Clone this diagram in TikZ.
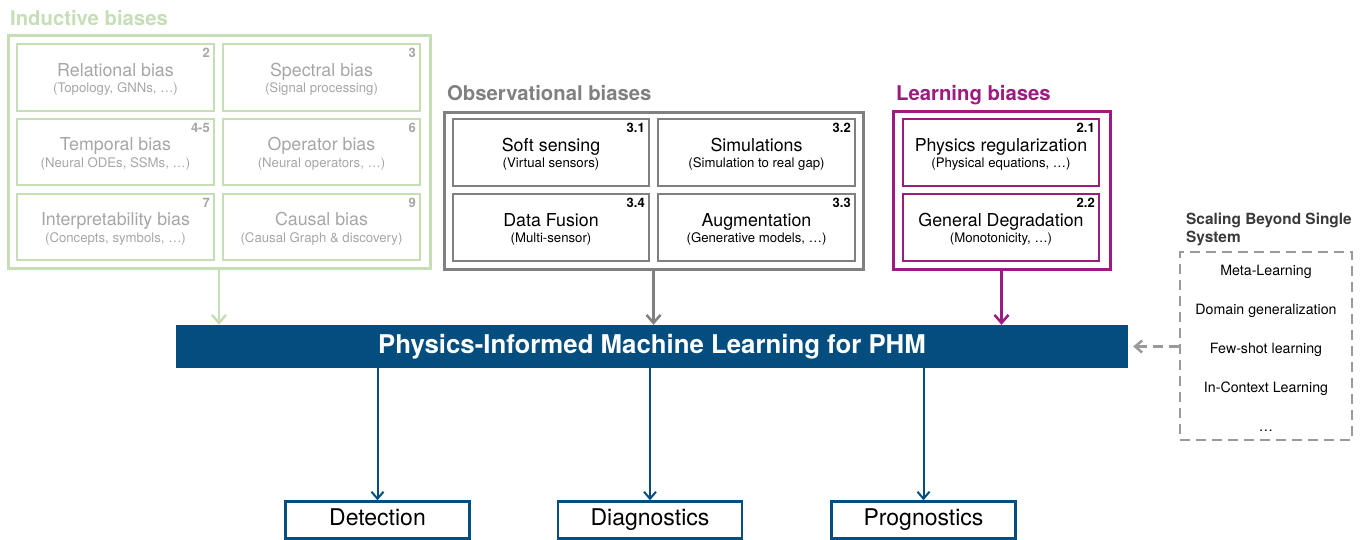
\documentclass[tikz,border=0pt]{standalone}
\usepackage{fontspec}
\setmainfont{TeX Gyre Heros}
\usetikzlibrary{arrows.meta,calc,fit}

\definecolor{indgreen}{HTML}{C6DEB6}
\definecolor{indtext}{HTML}{A6A6A6}
\definecolor{obsgray}{HTML}{808080}
\definecolor{learnpurple}{HTML}{9C1B80}
\definecolor{phmblue}{HTML}{034E7E}
\definecolor{scalegray}{HTML}{9A9A9A}
\definecolor{scaletext}{HTML}{3A3A3A}

\tikzset{
  titlefont/.style={font=\fontsize{17.8}{20}\selectfont},
  subfont/.style={font=\fontsize{13.2}{15}\selectfont},
  numfont/.style={font=\fontsize{13}{15}\selectfont\bfseries},
  groupfont/.style={font=\fontsize{20.3}{24}\selectfont\bfseries},
  groupbox/.style={draw=#1, line width=3pt},
  upar/.style={draw=#1, line width=2.5pt, -{Straight Barb[length=8pt,width=14pt,line width=2.5pt]}},
  downar/.style={draw=phmblue, line width=2pt, -{Straight Barb[length=7pt,width=12pt,line width=2pt]}},
  taskbox/.style={draw=phmblue, line width=2.5pt, minimum width=184pt, minimum height=37pt,
    inner sep=0pt, text height=16pt, text depth=5pt, font=\fontsize{23}{26}\selectfont},
  scaleitem/.style={anchor=base, font=\fontsize{14.2}{16}\selectfont, text=black},
}

% one bias box: name, nw corner, se corner, line colour, title, subtitle, number, text colour
\newcommand\biasbox[8]{%
  \path #2 coordinate (#1-nw) #3 coordinate (#1-se);
  \node[fit=(#1-nw)(#1-se), inner sep=0pt, draw=#4, line width=2pt] (#1) {};
  \node[anchor=base, inner sep=0pt, titlefont, text=#8] (#1-t) at ($(#1.center)+(0,-1.5)$) {#5};
  \node[anchor=base, inner sep=0pt, subfont, text=#8] (#1-s) at ($(#1.center)+(0,15)$) {#6};
  \node[anchor=north east, inner sep=0pt, numfont, text=#8] (#1-n) at ($(#1.north east)+(-5,5)$) {#7};
}

\begin{document}
\begin{tikzpicture}[x=1pt, y=-1pt]
\useasboundingbox (0,0) rectangle (1365,539);

% ---------- inductive biases ----------
\node[anchor=base west, inner sep=0pt, groupfont, text=indgreen] (indT) at (10,25) {Inductive biases};
\path (8,35) coordinate (ind-nw) (430,268) coordinate (ind-se);
\node[fit=(ind-nw)(ind-se), inner sep=0pt, groupbox=indgreen] (ind) {};
\biasbox{rel}{(17,44)}{(214,111)}{indgreen}{Relational bias}{(Topology, GNNs, …)}{2}{indtext}
\biasbox{spe}{(223,44)}{(420,111)}{indgreen}{Spectral bias}{(Signal processing)}{3}{indtext}
\biasbox{tem}{(17,119)}{(214,185)}{indgreen}{Temporal bias}{(Neural ODEs, SSMs, …)}{4-5}{indtext}
\biasbox{ope}{(223,119)}{(420,185)}{indgreen}{Operator bias}{(Neural operators, …)}{6}{indtext}
\biasbox{int}{(17,194)}{(214,260)}{indgreen}{Interpretability bias}{(Concepts, symbols, …)}{7}{indtext}
\biasbox{cau}{(223,194)}{(420,260)}{indgreen}{Causal bias}{(Causal Graph \& discovery)}{9}{indtext}

% ---------- observational biases ----------
\node[anchor=base west, inner sep=0pt, groupfont, text=obsgray] (obsT) at (447,100) {Observational biases};
\path (444,112) coordinate (obs-nw) (863,269) coordinate (obs-se);
\node[fit=(obs-nw)(obs-se), inner sep=0pt, groupbox=obsgray] (obs) {};
\biasbox{sof}{(453,119)}{(649,186)}{obsgray}{Soft sensing}{(Virtual sensors)}{3.1}{black}
\biasbox{sim}{(658,119)}{(855,186)}{obsgray}{Simulations}{(Simulation to real gap)}{3.2}{black}
\biasbox{fus}{(453,194)}{(649,261)}{obsgray}{Data Fusion}{(Multi-sensor)}{3.4}{black}
\biasbox{aug}{(658,194)}{(855,261)}{obsgray}{Augmentation}{(Generative models, …)}{3.3}{black}

% ---------- learning biases ----------
\node[anchor=base west, inner sep=0pt, groupfont, text=learnpurple] (lrnT) at (896,100) {Learning biases};
\path (893,111) coordinate (lrn-nw) (1110,269) coordinate (lrn-se);
\node[fit=(lrn-nw)(lrn-se), inner sep=0pt, groupbox=learnpurple] (lrn) {};
\biasbox{reg}{(903,119)}{(1099,186)}{learnpurple}{Physics regularization}{(Physical equations, …)}{2.1}{black}
\biasbox{deg}{(903,194)}{(1099,261)}{learnpurple}{General Degradation}{(Monotonicity, …)}{2.2}{black}

% ---------- central bar ----------
\node[fill=phmblue, minimum width=952pt, minimum height=43pt, inner sep=0pt,
      font=\fontsize{25.8}{28}\selectfont\bfseries, text=white] (phm) at (652,346.5)
      {Physics-Informed Machine Learning for PHM};

\draw[upar=indgreen] (ind.south) -- (ind.south |- phm.north);
\draw[upar=obsgray] (obs.south) -- (obs.south |- phm.north);
\draw[upar=learnpurple] (lrn.south) -- (lrn.south |- phm.north);

% ---------- scaling beyond a single system ----------
\node[anchor=north west, inner sep=0pt, align=left, text=scaletext,
      font=\fontsize{15.4}{18}\selectfont\bfseries] (scT) at (1186,213)
      {Scaling Beyond Single\\System};
\path (1180,252) coordinate (sc-nw) (1352,440) coordinate (sc-se);
\node[fit=(sc-nw)(sc-se), inner sep=0pt, draw=scalegray, line width=2.5pt,
      dash pattern=on 10pt off 6pt] (sc) {};
\node[scaleitem] (sc1) at (1266,275) {Meta-Learning};
\node[scaleitem] (sc2) at (1266,314) {Domain generalization};
\node[scaleitem] (sc3) at (1266,353) {Few-shot learning};
\node[scaleitem] (sc4) at (1266,392) {In-Context Learning};
\node[scaleitem] (sc5) at (1266,431) {…};
\draw[draw=scalegray, line width=2.5pt, dash pattern=on 10pt off 6pt,
      -{Straight Barb[length=7pt,width=12pt,line width=2.5pt]}]
      (sc.west |- phm.east) -- ([xshift=5pt]phm.east);

% ---------- tasks ----------
\node[taskbox] (det) at (377.5,520) {Detection};
\node[taskbox] (dia) at (650,520) {Diagnostics};
\node[taskbox] (pro) at (923.5,520) {Prognostics};
\draw[downar] (det.north |- phm.south) -- (det.north);
\draw[downar] (dia.north |- phm.south) -- (dia.north);
\draw[downar] (pro.north |- phm.south) -- (pro.north);
\end{tikzpicture}
\end{document}
